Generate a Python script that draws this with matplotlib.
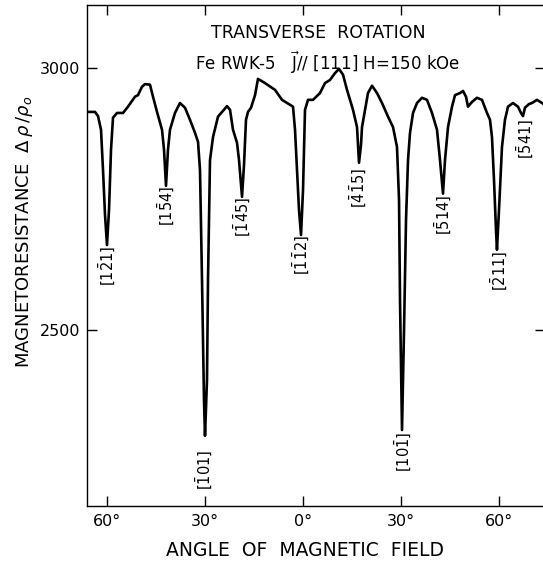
import matplotlib
matplotlib.use("Agg")
import matplotlib.pyplot as plt

plt.rcParams['font.family'] = ['DejaVu Sans']
plt.rcParams['mathtext.fontset'] = 'dejavusans'

# ---- data ----
angle = [-66.18, -63.73, -62.81, -61.89, -61.28, -60.67, -60.06, -59.44, -58.83, -58.22,
         -56.99, -55.16, -53.63, -51.49, -50.57, -49.35, -48.43, -46.90, -45.98, -44.75,
         -43.22, -42.61, -42.00, -41.39, -40.78, -40.17, -39.25, -37.72, -36.19, -34.66,
         -33.12, -32.20, -31.59, -30.98, -30.37, -30.06, -29.45, -29.14, -28.53, -27.61,
         -26.08, -24.85, -23.32, -22.40, -21.49, -20.26, -19.65, -18.73, -18.12, -17.51,
         -16.90, -15.98, -14.75, -13.84, -11.69, -8.63, -6.49, -4.96, -3.12, -2.51,
         -1.90, -1.29, -0.67, -0.06, 0.55, 1.47, 3.00, 5.14, 6.67, 8.20,
         9.73, 10.96, 12.18, 13.41, 14.33, 15.24, 16.47, 17.08, 17.69, 18.00,
         18.92, 19.83, 21.06, 22.59, 24.12, 25.96, 27.49, 28.71, 29.33, 29.63,
         30.24, 30.86, 31.47, 32.08, 32.69, 33.61, 34.83, 36.36, 37.89, 39.42,
         40.95, 41.87, 42.79, 43.40, 44.32, 45.55, 46.46, 47.99, 48.91, 49.83,
         50.44, 51.66, 53.19, 54.72, 56.25, 57.17, 57.78, 58.40, 59.01, 59.31,
         59.93, 60.84, 61.76, 62.68, 64.21, 65.74, 66.66, 67.27, 67.88, 69.11,
         70.03, 71.56, 73.09, 74.01]
resistance = [2916, 2916, 2908, 2882, 2805, 2720, 2662, 2729, 2844, 2905,
              2914, 2914, 2926, 2945, 2948, 2964, 2969, 2968, 2945, 2916,
              2882, 2844, 2775, 2844, 2882, 2895, 2914, 2933, 2924, 2901,
              2876, 2859, 2805, 2596, 2367, 2298, 2405, 2596, 2824, 2868,
              2907, 2916, 2927, 2920, 2882, 2857, 2824, 2754, 2815, 2901,
              2916, 2924, 2948, 2979, 2971, 2958, 2939, 2933, 2926, 2882,
              2805, 2729, 2681, 2767, 2920, 2939, 2939, 2952, 2971, 2977,
              2990, 2998, 2987, 2958, 2939, 2920, 2887, 2819, 2853, 2887,
              2920, 2952, 2966, 2952, 2933, 2907, 2887, 2849, 2748, 2557,
              2309, 2500, 2710, 2824, 2876, 2914, 2933, 2943, 2939, 2914,
              2882, 2824, 2760, 2824, 2887, 2926, 2948, 2952, 2956, 2945,
              2926, 2935, 2943, 2939, 2914, 2901, 2868, 2786, 2691, 2653,
              2729, 2849, 2901, 2926, 2933, 2926, 2914, 2908, 2924, 2931,
              2933, 2939, 2933, 2929]

x_ticks = [-60, -30, 0, 30, 60]
x_tick_labels = ['60°', '30°', '0°', '30°', '60°']
y_ticks = [2500, 3000]
y_tick_labels = ['2500', '3000']

dip_labels = [r'$\mathregular{[1\bar{2}1]}$', r'$\mathregular{[1\bar{5}4]}$',
              r'$\mathregular{[\bar{1}01]}$', r'$\mathregular{[\bar{1}\bar{4}5]}$',
              r'$\mathregular{[\bar{1}\bar{1}2]}$', r'$\mathregular{[\bar{4}\bar{1}5]}$',
              r'$\mathregular{[10\bar{1}]}$', r'$\mathregular{[\bar{5}14]}$',
              r'$\mathregular{[\bar{2}11]}$', r'$\mathregular{[\bar{5}41]}$']
dip_label_pos = [(-60.06, 2622), (-42.0, 2737), (-30.37, 2233), (-18.73, 2716),
                 (-0.67, 2643), (16.77, 2771), (30.55, 2267), (42.79, 2720),
                 (59.93, 2613), (67.88, 2865)]

# ---- figure ----
W, H = 543, 565
fig = plt.figure(figsize=(W / 100, H / 100), dpi=100)
ax = fig.add_axes([87 / W, 1 - 506 / H, (545 - 87) / W, (506 - 5) / H])

ax.plot(angle, resistance, color='black', lw=1.9, solid_joinstyle='round')

ax.set_xlim(-66.18, 74.01)
ax.set_ylim(2164, 3120)

ax.set_xticks(x_ticks)
ax.set_xticklabels(x_tick_labels)
ax.set_yticks(y_ticks)
ax.set_yticklabels(y_tick_labels)
ax.tick_params(direction='in', length=7, width=1.0, top=True, right=True,
               labelsize=11.5, pad=5)
ax.tick_params(axis='x', pad=6)
for s in ax.spines.values():
    s.set_linewidth(1.0)

for lab, (xa, ya) in zip(dip_labels, dip_label_pos):
    ax.text(xa, ya, lab, rotation=90, ha='center', va='center', fontsize=10.5)

fig.text(318 / W, 1 - 33 / H, 'TRANSVERSE  ROTATION', ha='center', va='center', fontsize=12.5)
fig.text(328 / W, 1 - 63 / H, r'Fe RWK-5   $\vec{\mathregular{J}}$// [111] H=150 kOe',
         ha='center', va='center', fontsize=12)
fig.text(305 / W, 1 - 551 / H, 'ANGLE  OF  MAGNETIC  FIELD', ha='center', va='center',
         fontsize=13.5)
fig.text(25 / W, 1 - 232 / H, r'MAGNETORESISTANCE  $\Delta\,\rho\,/\rho_o$',
         rotation=90, ha='center', va='center', fontsize=13)

fig.savefig('out.png', dpi=100)
